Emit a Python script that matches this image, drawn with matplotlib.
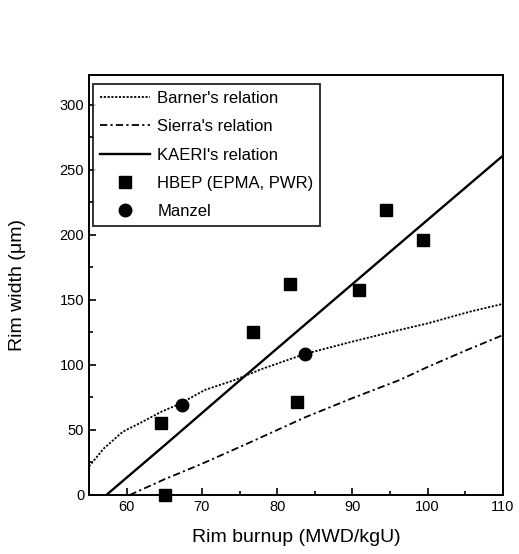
import matplotlib
matplotlib.use("Agg")
import matplotlib.pyplot as plt
from matplotlib.ticker import MultipleLocator

plt.rcParams['font.family'] = ['Liberation Sans', 'DejaVu Sans']

# Barner's relation (dotted)
barner_x = [55, 57, 59.5, 62, 64.6, 67, 70.4, 74.4, 78, 83.7, 90, 96.3, 100, 105.6, 110]
barner_y = [22, 36, 48.7, 56, 64, 70, 80.8, 88.5, 97, 108.5, 118, 127, 132, 141, 147]

# Sierra's relation (dash-dot)
sierra_x = [60.4, 65, 70, 76.1, 83.7, 90, 96.3, 100, 105, 110]
sierra_y = [0, 12, 24, 39.7, 59.7, 74.5, 88.5, 98.5, 111, 123]

# KAERI's relation (solid)
kaeri_x = [57.3, 65, 75, 85, 95, 110]
kaeri_y = [0, 38, 88, 137.5, 187, 261]

# measured points
hbep_x = [65.1, 64.6, 76.8, 82.6, 81.7, 90.9, 94.5, 99.4]
hbep_y = [0, 55, 125.6, 71.8, 162, 157.7, 219, 196]
manzel_x = [67.4, 83.7]
manzel_y = [69, 108.5]

fig = plt.figure(figsize=(5.19, 5.54), dpi=100)
ax = fig.add_axes([0.1715, 0.1065, 0.7975, 0.758])

ax.plot(barner_x, barner_y, color='black', lw=1.3, ls=(0, (1.2, 0.9)), label="Barner's relation")
ax.plot(sierra_x, sierra_y, color='black', lw=1.3, ls=(0, (4, 1.8, 1.2, 1.8)), label="Sierra's relation")
ax.plot(kaeri_x, kaeri_y, color='black', lw=1.7, label="KAERI's relation")
ax.plot(hbep_x, hbep_y, 's', color='black', ms=8.5, label='HBEP (EPMA, PWR)', clip_on=False)
ax.plot(manzel_x, manzel_y, 'o', color='black', ms=9, label='Manzel', clip_on=False)

ax.set_xlim(55, 110)
ax.set_ylim(0, 323)
ax.xaxis.set_major_locator(MultipleLocator(10))
ax.xaxis.set_minor_locator(MultipleLocator(5))
ax.yaxis.set_major_locator(MultipleLocator(50))
ax.yaxis.set_minor_locator(MultipleLocator(25))
ax.tick_params(which='both', direction='in', top=False, right=False, labelsize=10.5)
ax.tick_params(which='major', length=5, width=1.2)
ax.tick_params(which='minor', length=3, width=1.2)
for s in ax.spines.values():
    s.set_linewidth(1.4)

ax.set_xlabel('Rim burnup (MWD/kgU)', fontsize=14, labelpad=11)
ax.set_ylabel('Rim width (\u03bcm)', fontsize=14, labelpad=24)

leg = ax.legend(loc='upper left', bbox_to_anchor=(0.0, 0.988), borderaxespad=0.25,
                fontsize=12, frameon=True, fancybox=False, edgecolor='black',
                handlelength=3.0, handletextpad=0.45, labelspacing=0.8, borderpad=0.4,
                numpoints=1)
leg.get_frame().set_linewidth(1.4)

fig.savefig('out.png', dpi=100)
